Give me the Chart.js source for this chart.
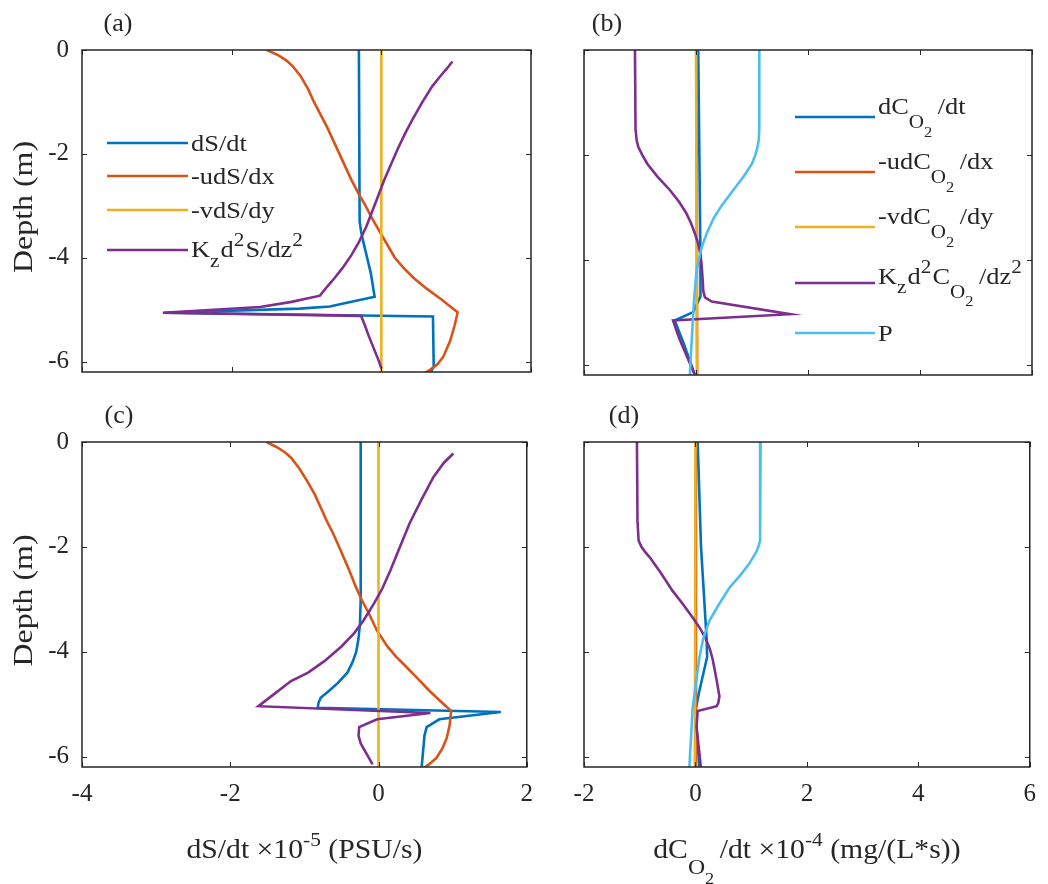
<!DOCTYPE html>
<html>
<head>
<meta charset="utf-8">
<script src="https://cdn.jsdelivr.net/npm/chart.js@4.4.0/dist/chart.umd.min.js"></script>
<style>
  body { margin: 0; background: #fff; }
  #wrap { position: relative; width: 1048px; height: 884px; }
  canvas { position: absolute; }
</style>
</head>
<body>
<div id="wrap">
  <canvas id="pa" width="545" height="400" style="left:0;top:0"></canvas>
  <canvas id="pb" width="503" height="400" style="left:545px;top:0"></canvas>
  <canvas id="pc" width="545" height="484" style="left:0;top:400px"></canvas>
  <canvas id="pd" width="503" height="484" style="left:545px;top:400px"></canvas>
</div>
<script>
// ---- data (depth in m, rates: salinity x1e-5 PSU/s, oxygen x1e-4 mg/(L*s)) ----
// panel (a)
const depA_dsdt = [0, -3.3, -3.5, -3.7, -4.0, -4.3, -4.75, -4.94, -4.98, -5.06, -5.13, -6.1, -6.2];
const valA_dsdt = [-0.30, -0.29, -0.27, -0.24, -0.19, -0.14, -0.09, -0.69, -1.09, -2.9, 0.69, 0.70, 0.66];
const depA_u = [0, -0.1, -0.2, -0.32, -0.5, -0.75, -1.0, -1.25, -1.5, -1.75, -2.0, -2.25, -2.5, -2.75, -3.0, -3.25, -3.5, -3.75, -4.0, -4.2, -4.4, -4.6, -4.8, -4.95, -5.05, -5.3, -5.6, -5.9, -6.05, -6.15, -6.22];
const valA_u = [-1.53, -1.38, -1.27, -1.18, -1.08, -0.98, -0.9, -0.81, -0.72, -0.64, -0.56, -0.48, -0.4, -0.31, -0.21, -0.12, -0.02, 0.08, 0.18, 0.3, 0.44, 0.61, 0.8, 0.93, 1.02, 0.98, 0.92, 0.83, 0.75, 0.66, 0.58];
const depA_v = [0, -6.2];
const valA_v = [0, 0];
const depA_kz = [-0.22, -0.35, -0.5, -0.7, -1.0, -1.3, -1.6, -1.9, -2.2, -2.5, -2.8, -3.1, -3.4, -3.7, -3.95, -4.2, -4.4, -4.55, -4.73, -4.85, -4.95, -5.06, -5.12, -5.3, -5.5, -5.75, -6.0, -6.13];
const valA_kz = [0.95, 0.88, 0.79, 0.68, 0.55, 0.43, 0.32, 0.22, 0.13, 0.04, -0.04, -0.12, -0.2, -0.3, -0.4, -0.52, -0.63, -0.72, -0.82, -1.2, -1.62, -2.92, -0.27, -0.22, -0.17, -0.1, -0.03, 0.0];

// panel (b)
const depB_dcdt = [0, -2, -4, -4.7, -5.0, -5.16, -5.6, -6.2];
const valB_dcdt = [0.04, 0.06, 0.08, 0.08, -0.05, -0.38, -0.22, -0.02];
const depB_u = [0, -6.2];
const valB_u = [0.01, 0.02];
const depB_v = [0, -6.2];
const valB_v = [0.0, 0.02];
const depB_kz = [0, -1.5, -1.72, -1.85, -2.0, -2.17, -2.4, -2.68, -2.9, -3.1, -3.3, -3.5, -3.7, -3.9, -4.1, -4.4, -4.6, -4.72, -4.8, -5.04, -5.16, -5.5, -5.75, -6.2];
const valB_kz = [-1.09, -1.08, -1.06, -1.03, -0.96, -0.87, -0.7, -0.46, -0.3, -0.18, -0.09, -0.02, 0.04, 0.08, 0.1, 0.12, 0.13, 0.16, 0.28, 1.68, -0.41, -0.3, -0.2, -0.02];
const depB_p = [0, -1.5, -1.72, -1.85, -2.0, -2.17, -2.4, -2.68, -2.95, -3.2, -3.5, -3.77, -4.0, -4.21, -4.7, -5.04, -5.6, -6.2];
const valB_p = [1.13, 1.13, 1.12, 1.1, 1.06, 1.0, 0.86, 0.66, 0.47, 0.32, 0.19, 0.1, 0.05, 0.01, -0.03, -0.05, -0.08, -0.11];

// panel (c)
const depC_dsdt = [0, -3.0, -3.47, -3.75, -4.0, -4.2, -4.4, -4.6, -4.75, -4.88, -4.98, -5.07, -5.15, -5.29, -5.44, -5.6, -5.77, -6.23];
const valC_dsdt = [-0.24, -0.24, -0.25, -0.27, -0.3, -0.35, -0.42, -0.55, -0.67, -0.78, -0.81, -0.82, 1.65, 0.82, 0.65, 0.62, 0.61, 0.58];
const depC_u = [0, -0.1, -0.2, -0.3, -0.5, -0.75, -1.0, -1.25, -1.5, -1.75, -2.07, -2.5, -2.75, -3.0, -3.3, -3.6, -3.9, -4.1, -4.24, -4.5, -4.75, -4.95, -5.13, -5.4, -5.65, -5.85, -6.03, -6.15, -6.25];
const valC_u = [-1.51, -1.37, -1.26, -1.18, -1.07, -0.96, -0.86, -0.78, -0.7, -0.61, -0.51, -0.38, -0.31, -0.23, -0.12, -0.02, 0.12, 0.24, 0.34, 0.52, 0.69, 0.84, 0.98, 0.96, 0.92, 0.86, 0.78, 0.68, 0.58];
const depC_v = [0, -6.25];
const valC_v = [0, 0];
const depC_kz = [-0.22, -0.4, -0.67, -1.1, -1.55, -2.0, -2.45, -2.8, -3.08, -3.4, -3.65, -3.9, -4.18, -4.4, -4.56, -4.8, -5.04, -5.17, -5.29, -5.44, -5.6, -5.75, -5.95, -6.15];
const valC_kz = [1.01, 0.88, 0.74, 0.58, 0.42, 0.29, 0.16, 0.05, -0.06, -0.2, -0.33, -0.5, -0.73, -0.95, -1.18, -1.4, -1.62, 0.7, -0.02, -0.26, -0.27, -0.24, -0.16, -0.08];

// panel (d)
const depD_dcdt = [0, -2, -3.74, -4.1, -4.75, -5.13, -6.22];
const valD_dcdt = [0.04, 0.1, 0.2, 0.21, 0.07, 0.0, 0.07];
const depD_u = [0, -6.22];
const valD_u = [0.01, 0.01];
const depD_v = [0, -6.22];
const valD_v = [0.0, -0.01];
const depD_kz = [0, -1.5, -1.88, -2.0, -2.1, -2.2, -2.5, -2.84, -3.1, -3.35, -3.55, -3.74, -3.95, -4.15, -4.37, -4.6, -4.85, -4.98, -5.04, -5.13, -5.44, -6.22];
const valD_kz = [-1.05, -1.04, -1.02, -0.97, -0.9, -0.82, -0.62, -0.41, -0.22, -0.05, 0.08, 0.18, 0.26, 0.31, 0.35, 0.39, 0.43, 0.41, 0.38, 0.04, 0.02, 0.1];
const depD_p = [0, -1.88, -2.0, -2.1, -2.33, -2.55, -2.78, -3.1, -3.41, -3.75, -4.12, -4.6, -5.07, -6.22];
const valD_p = [1.17, 1.16, 1.13, 1.09, 0.96, 0.8, 0.61, 0.42, 0.25, 0.14, 0.07, 0.01, -0.05, -0.11];

const xTicksS = [-4, -2, 0, 2];
const xTicksO = [-2, 0, 2, 4, 6];
const yTicks = [-6, -4, -2, 0];

const colors = ['#0072BD', '#D95319', '#EDB120', '#7E2F8E', '#4DBEEE'];
const FONT = 'Liberation Serif';
const INK = '#262626';

// rich text segments: [text, sizeFactor, baselineOffsetEm, extraGapAfter]
function richWidth(ctx, segs, size) {
  let w = 0;
  segs.forEach(s => { ctx.font = (size * s[1]) + 'px "' + FONT + '"'; w += ctx.measureText(s[0]).width + (s[3] || 0); });
  return w;
}
function drawRich(ctx, segs, x, y, size, align, hs) {
  hs = hs || 1;
  const w = richWidth(ctx, segs, size) * hs;
  ctx.save();
  ctx.translate(align === 'center' ? x - w / 2 : x, y);
  ctx.scale(hs, 1);
  ctx.fillStyle = INK;
  ctx.textBaseline = 'alphabetic';
  ctx.textAlign = 'left';
  let cx = 0;
  segs.forEach(s => {
    ctx.font = (size * s[1]) + 'px "' + FONT + '"';
    ctx.fillText(s[0], cx, s[2] * size);
    cx += ctx.measureText(s[0]).width + (s[3] || 0);
  });
  ctx.restore();
}

const labS = [
  [['dS/dt', 1, 0]],
  [['-udS/dx', 1, 0]],
  [['-vdS/dy', 1, 0]],
  [['K', 1, 0], ['z', 0.8, 0.4, 1], ['d', 1, 0], ['2', 0.8, -0.45, 1], ['S/dz', 1, 0], ['2', 0.8, -0.45]]
];
const labO = [
  [['dC', 1, 0], ['O', 0.8, 0.6], ['2', 0.62, 0.95, 5], ['/dt', 1, 0]],
  [['-udC', 1, 0], ['O', 0.8, 0.6], ['2', 0.62, 0.95, 5], ['/dx', 1, 0]],
  [['-vdC', 1, 0], ['O', 0.8, 0.6], ['2', 0.62, 0.95, 5], ['/dy', 1, 0]],
  [['K', 1, 0], ['z', 0.8, 0.4, 1], ['d', 1, 0], ['2', 0.8, -0.45, 1], ['C', 1, 0], ['O', 0.8, 0.6], ['2', 0.62, 0.95, 5], ['/dz', 1, 0], ['2', 0.8, -0.45]],
  [['P', 1, 0]]
];

const framePlugin = {
  id: 'frame',
  afterDraw(chart, args, opts) {
    const ctx = chart.ctx, a = chart.chartArea;
    const xs = chart.scales.x, ys = chart.scales.y;
    ctx.save();
    ctx.strokeStyle = INK;
    ctx.lineWidth = 1.5;
    ctx.strokeRect(a.left, a.top, a.right - a.left, a.bottom - a.top);
    ctx.lineWidth = 1;
    const tl = 5;
    xs.ticks.forEach(t => {
      const px = Math.round(xs.getPixelForValue(t.value)) + 0.5;
      ctx.beginPath();
      ctx.moveTo(px, a.bottom); ctx.lineTo(px, a.bottom - tl);
      ctx.moveTo(px, a.top); ctx.lineTo(px, a.top + tl);
      ctx.stroke();
    });
    ys.ticks.forEach(t => {
      const py = Math.round(ys.getPixelForValue(t.value)) + 0.5;
      ctx.beginPath();
      ctx.moveTo(a.left, py); ctx.lineTo(a.left + tl, py);
      ctx.moveTo(a.right, py); ctx.lineTo(a.right - tl, py);
      ctx.stroke();
    });
    // panel tag
    ctx.fillStyle = INK;
    ctx.font = '26px "' + FONT + '"';
    ctx.textAlign = 'center';
    ctx.textBaseline = 'middle';
    ctx.fillText(opts.tag, opts.tagX, a.top - 26);
    // y title
    if (opts.yTitle) {
      ctx.save();
      ctx.translate(25, (a.top + a.bottom) / 2 - 4);
      ctx.rotate(-Math.PI / 2);
      ctx.scale(1.14, 1);
      ctx.font = '28px "' + FONT + '"';
      ctx.textAlign = 'center';
      ctx.textBaseline = 'middle';
      ctx.fillText(opts.yTitle, 0, 0);
      ctx.restore();
    }
    if (opts.xTitle) {
      drawRich(ctx, opts.xTitle, (a.left + a.right) / 2, a.bottom + 91, 27, 'center', 1.1);
    }
    // legend
    if (opts.legend) {
      const L = opts.legend;
      L.labels.forEach((segs, i) => {
        const y = L.ys[i];
        ctx.strokeStyle = colors[i];
        ctx.lineWidth = 2.5;
        ctx.beginPath();
        ctx.moveTo(L.x0, y); ctx.lineTo(L.x1, y);
        ctx.stroke();
        let top = 0, bot = 0;
        segs.forEach(s => {
          top = Math.min(top, s[2] * L.size - 0.68 * s[1] * L.size);
          bot = Math.max(bot, s[2] * L.size);
        });
        drawRich(ctx, segs, L.x1 + 3, y - (top + bot) / 2, L.size, 'left', 1.1);
      });
    }
    ctx.restore();
  }
};

function pts(dep, val) {
  return dep.map((d, i) => ({ x: val[i], y: d }));
}

function makePanel(id, series, xr, xt, opt) {
  const cv = document.getElementById(id);
  const W = cv.width, H = cv.height;
  new Chart(cv.getContext('2d'), {
    type: 'scatter',
    data: {
      datasets: series.map((s, i) => ({
        data: pts(s[0], s[1]),
        showLine: true,
        borderColor: colors[i],
        backgroundColor: colors[i],
        borderWidth: 2.6,
        pointRadius: 0,
        tension: 0,
        order: -i
      }))
    },
    options: {
      responsive: false,
      animation: false,
      devicePixelRatio: 1,
      layout: { padding: { top: opt.top, right: W - opt.right, left: 0, bottom: 0 } },
      scales: {
        x: {
          type: 'linear', min: xr[0], max: xr[1],
          afterBuildTicks: s => { s.ticks = xt.map(v => ({ value: v })); },
          afterFit: s => { s.height = H - opt.bottom; },
          grid: { display: false, drawTicks: false },
          border: { display: false },
          ticks: {
            display: opt.xLabels, padding: 12, color: INK,
            font: { family: FONT, size: 25 },
            callback: v => String(v)
          }
        },
        y: {
          type: 'linear', min: -6.2, max: 0,
          afterBuildTicks: s => { s.ticks = yTicks.map(v => ({ value: v })); },
          afterFit: s => { s.width = opt.left; },
          grid: { display: false, drawTicks: false },
          border: { display: false },
          ticks: {
            display: opt.yLabels, padding: 13, color: INK,
            font: { family: FONT, size: 25 },
            callback: v => String(v)
          }
        }
      },
      plugins: {
        legend: { display: false },
        tooltip: { enabled: false },
        frame: opt.frame
      }
    },
    plugins: [framePlugin]
  });
}

makePanel('pa',
  [[depA_dsdt, valA_dsdt], [depA_u, valA_u], [depA_v, valA_v], [depA_kz, valA_kz]],
  [-4, 2], xTicksS,
  { left: 82, right: 531, top: 50, bottom: 375, xLabels: false, yLabels: true,
    frame: { tag: '(a)', tagX: 118, yTitle: 'Depth (m)',
      legend: { labels: labS, x0: 107, x1: 188, ys: [143, 176, 210, 250], size: 24 } } });

makePanel('pb',
  [[depB_dcdt, valB_dcdt], [depB_u, valB_u], [depB_v, valB_v], [depB_kz, valB_kz], [depB_p, valB_p]],
  [-2, 6], xTicksO,
  { left: 39, right: 487, top: 50, bottom: 375, xLabels: false, yLabels: false,
    frame: { tag: '(b)', tagX: 62,
      legend: { labels: labO, x0: 250, x1: 330, ys: [117, 172, 227, 283, 333], size: 24 } } });

makePanel('pc',
  [[depC_dsdt, valC_dsdt], [depC_u, valC_u], [depC_v, valC_v], [depC_kz, valC_kz]],
  [-4, 2], xTicksS,
  { left: 82, right: 531, top: 42, bottom: 367, xLabels: true, yLabels: true,
    frame: { tag: '(c)', tagX: 119, yTitle: 'Depth (m)',
      xTitle: [['dS/dt \u00d710', 1, 0], ['-5', 0.72, -0.45], [' (PSU/s)', 1, 0]] } });

makePanel('pd',
  [[depD_dcdt, valD_dcdt], [depD_u, valD_u], [depD_v, valD_v], [depD_kz, valD_kz], [depD_p, valD_p]],
  [-2, 6], xTicksO,
  { left: 39, right: 487, top: 42, bottom: 367, xLabels: true, yLabels: false,
    frame: { tag: '(d)', tagX: 79,
      xTitle: [['dC', 1, 0], ['O', 0.8, 0.6], ['2', 0.62, 0.95, 5], ['/dt \u00d710', 1, 0], ['-4', 0.72, -0.45], [' (mg/(L*s))', 1, 0]] } });
</script>
</body>
</html>
